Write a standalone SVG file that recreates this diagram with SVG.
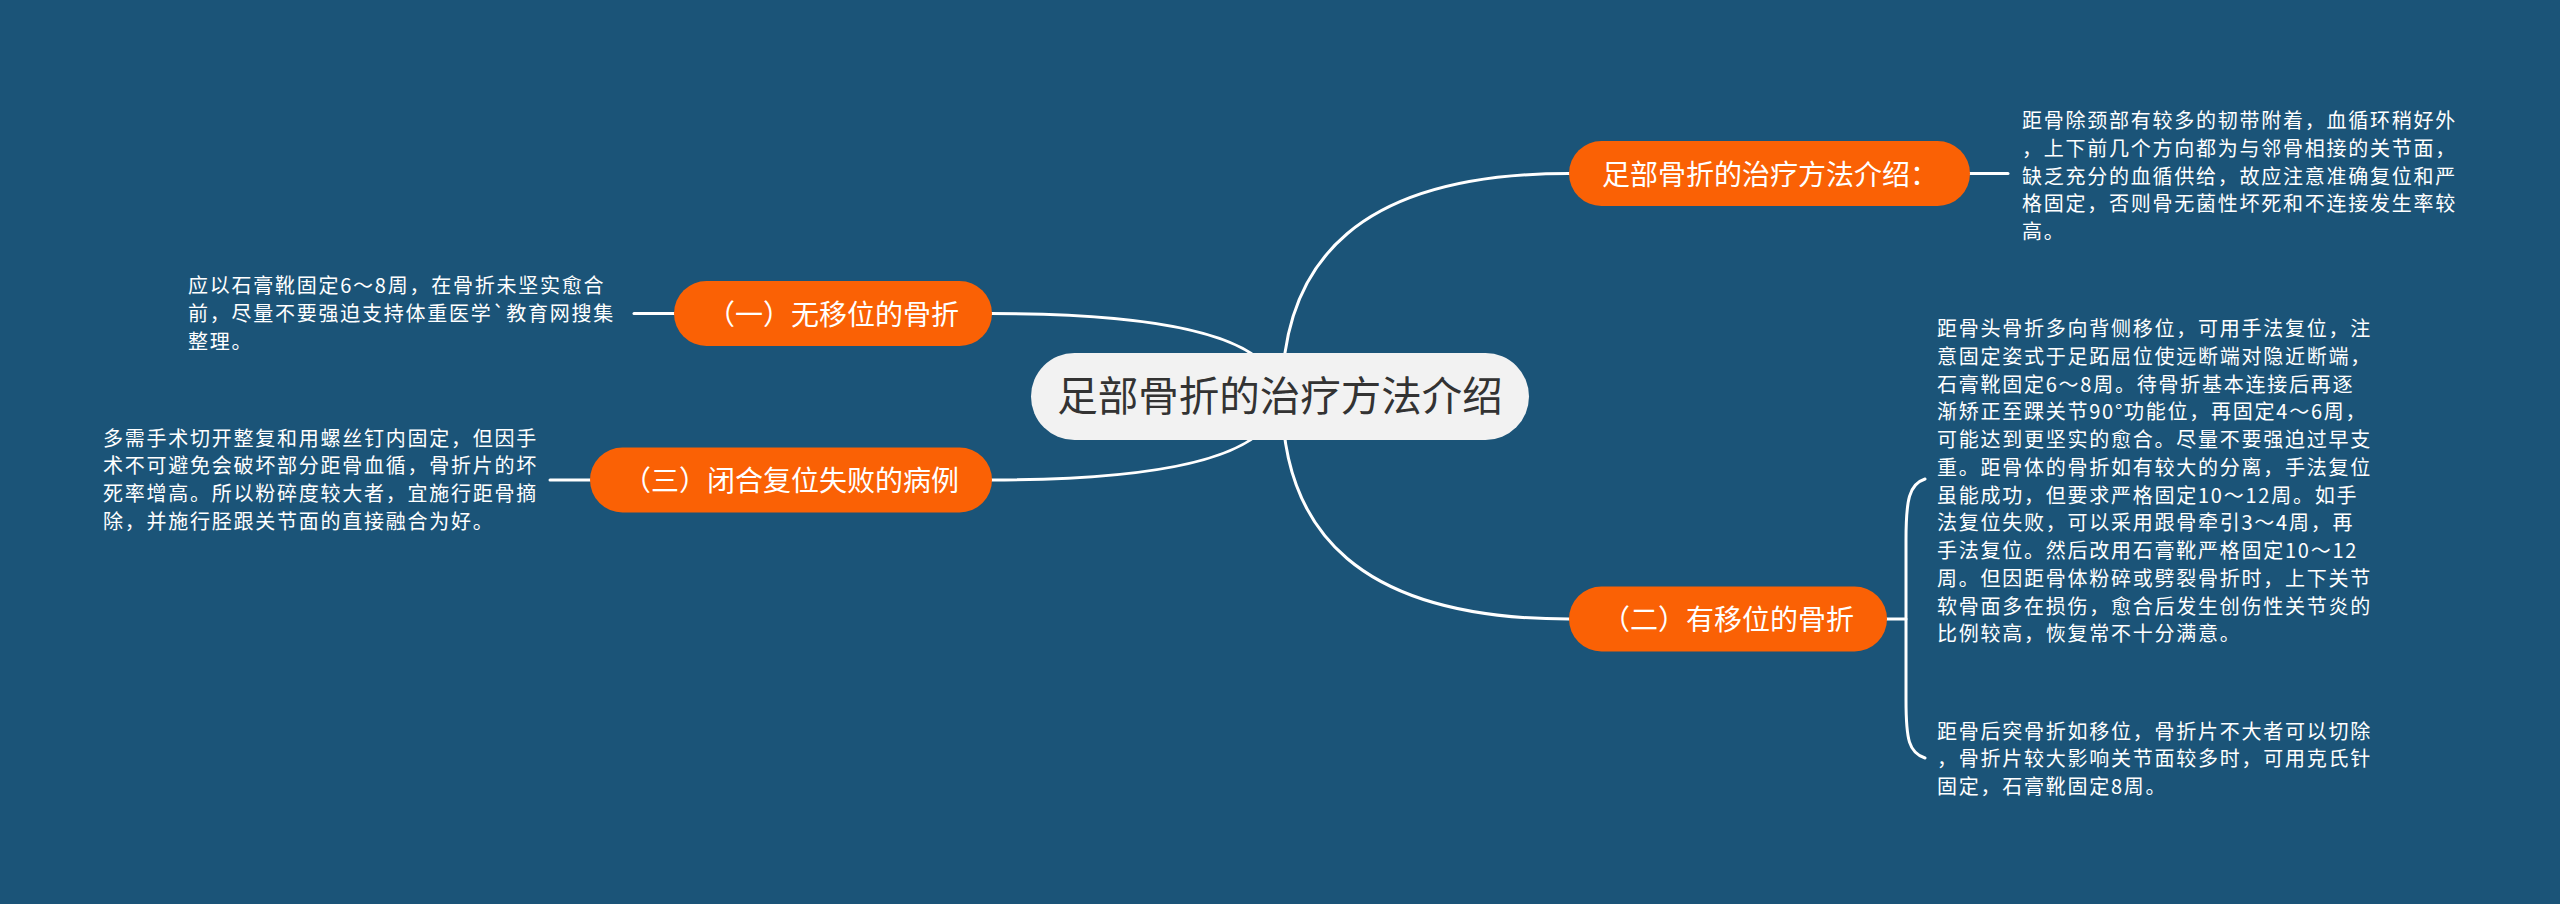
<svg xmlns="http://www.w3.org/2000/svg" width="2560" height="904" viewBox="0 0 2560 904">
<style>
.bg{fill:#1B5478}
.edge{fill:none;stroke:#FFFFFF;stroke-width:3;stroke-linecap:round}
.root rect{fill:#F2F2F2}
.root text{fill:#333333;font-size:40.5px;text-anchor:middle}
.topic rect{fill:#FA6105}
.topic text{fill:#FFFFFF;font-size:28px}
.leaf text{fill:#FFFFFF;font-size:20px;letter-spacing:1.75px}
text{font-family:"Noto Sans CJK SC","Noto Sans",sans-serif}
</style>
<rect class="bg" x="0" y="0" width="2560" height="904"/>
<g id="connectors">
<path class="edge" d="M1282 396 C1282 260 1360 173.5 1569 173.5"/>
<path class="edge" d="M1282 396 C1282 532 1360 619 1569 619"/>
<path class="edge" d="M1278 396 Q1278 313.5 991 313.5"/>
<path class="edge" d="M1278 396 Q1278 480 991 480"/>
<path class="edge" d="M1970 173.5 L2008 173.5"/>
<path class="edge" d="M1886 619 L1906 619"/>
<path class="edge" d="M1925 479 C1909 484 1906 500 1906 540 L1906 700 C1906 740 1909 753 1925 758"/>
<path class="edge" d="M674 313.5 L634 313.5"/>
<path class="edge" d="M590 480 L550 480"/>
</g>
<g id="root" class="root">
<rect x="1031" y="353" width="498" height="87" rx="43.5"/>
<text x="1280" y="411">足部骨折的治疗方法介绍</text>
</g>
<g id="topic-intro" class="topic">
<rect x="1569" y="141" width="401" height="65" rx="32.5"/>
<text x="1602" y="184.5">足部骨折的治疗方法介绍：</text>
</g>
<g id="topic-2" class="topic">
<rect x="1569" y="586.5" width="318" height="65" rx="32.5"/>
<text x="1602" y="630">（二）有移位的骨折</text>
</g>
<g id="topic-1" class="topic">
<rect x="674" y="281" width="318" height="65" rx="32.5"/>
<text x="707" y="324.5">（一）无移位的骨折</text>
</g>
<g id="topic-3" class="topic">
<rect x="590" y="447.5" width="402" height="65" rx="32.5"/>
<text x="623" y="491">（三）闭合复位失败的病例</text>
</g>
<g id="leaf-intro" class="leaf">
<text x="2022" y="128">
<tspan x="2022" y="128">距骨除颈部有较多的韧带附着，血循环稍好外</tspan>
<tspan x="2022" dy="27.75">，上下前几个方向都为与邻骨相接的关节面，</tspan>
<tspan x="2022" dy="27.75">缺乏充分的血循供给，故应注意准确复位和严</tspan>
<tspan x="2022" dy="27.75">格固定，否则骨无菌性坏死和不连接发生率较</tspan>
<tspan x="2022" dy="27.75">高。</tspan>
</text>
</g>
<g id="leaf-2a" class="leaf">
<text x="1937" y="336">
<tspan x="1937" y="336">距骨头骨折多向背侧移位，可用手法复位，注</tspan>
<tspan x="1937" dy="27.75">意固定姿式于足跖屈位使远断端对隐近断端，</tspan>
<tspan x="1937" dy="27.75">石膏靴固定6～8周。待骨折基本连接后再逐</tspan>
<tspan x="1937" dy="27.75">渐矫正至踝关节90°功能位，再固定4～6周，</tspan>
<tspan x="1937" dy="27.75">可能达到更坚实的愈合。尽量不要强迫过早支</tspan>
<tspan x="1937" dy="27.75">重。距骨体的骨折如有较大的分离，手法复位</tspan>
<tspan x="1937" dy="27.75">虽能成功，但要求严格固定10～12周。如手</tspan>
<tspan x="1937" dy="27.75">法复位失败，可以采用跟骨牵引3～4周，再</tspan>
<tspan x="1937" dy="27.75">手法复位。然后改用石膏靴严格固定10～12</tspan>
<tspan x="1937" dy="27.75">周。但因距骨体粉碎或劈裂骨折时，上下关节</tspan>
<tspan x="1937" dy="27.75">软骨面多在损伤，愈合后发生创伤性关节炎的</tspan>
<tspan x="1937" dy="27.75">比例较高，恢复常不十分满意。</tspan>
</text>
</g>
<g id="leaf-2b" class="leaf">
<text x="1937" y="738.5">
<tspan x="1937" y="738.5">距骨后突骨折如移位，骨折片不大者可以切除</tspan>
<tspan x="1937" dy="27.75">，骨折片较大影响关节面较多时，可用克氏针</tspan>
<tspan x="1937" dy="27.75">固定，石膏靴固定8周。</tspan>
</text>
</g>
<g id="leaf-1" class="leaf">
<text x="188" y="293">
<tspan x="188" y="293">应以石膏靴固定6～8周，在骨折未坚实愈合</tspan>
<tspan x="188" dy="27.75">前，尽量不要强迫支持体重医学`教育网搜集</tspan>
<tspan x="188" dy="27.75">整理。</tspan>
</text>
</g>
<g id="leaf-3" class="leaf">
<text x="103" y="445.5">
<tspan x="103" y="445.5">多需手术切开整复和用螺丝钉内固定，但因手</tspan>
<tspan x="103" dy="27.75">术不可避免会破坏部分距骨血循，骨折片的坏</tspan>
<tspan x="103" dy="27.75">死率增高。所以粉碎度较大者，宜施行距骨摘</tspan>
<tspan x="103" dy="27.75">除，并施行胫跟关节面的直接融合为好。</tspan>
</text>
</g>
</svg>
